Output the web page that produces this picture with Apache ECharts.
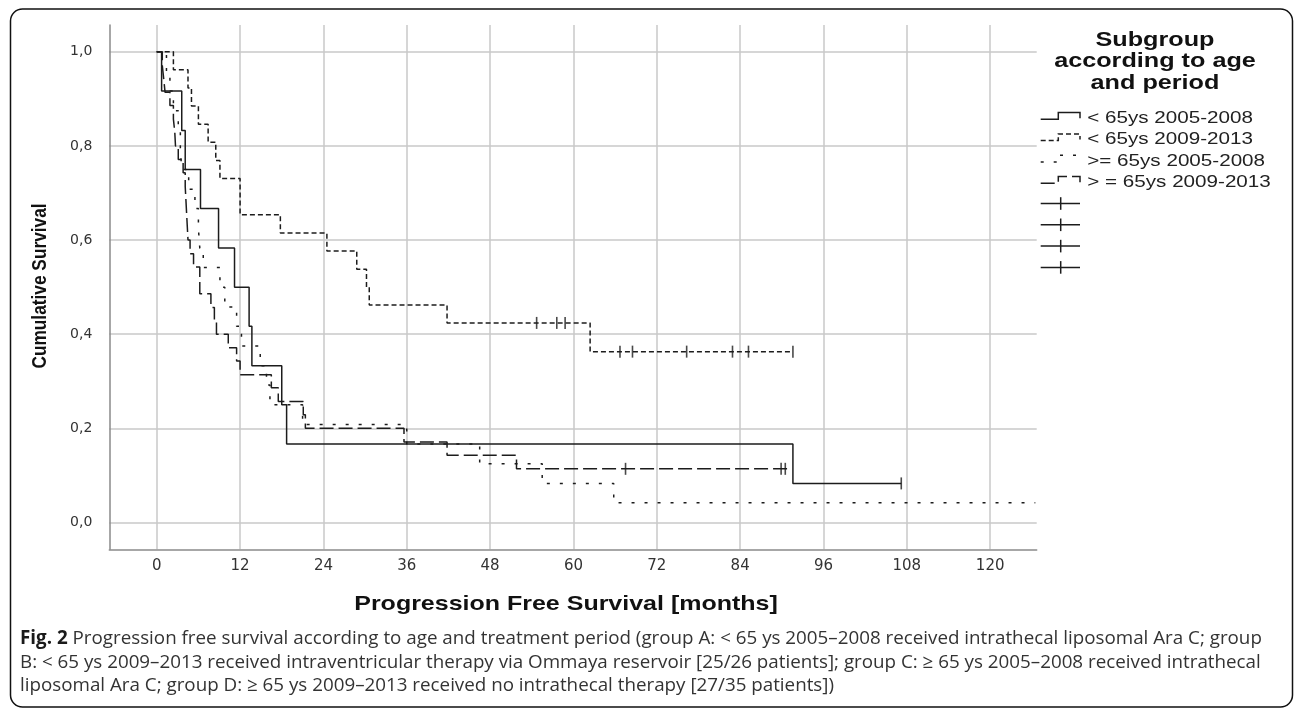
<!DOCTYPE html>
<html>
<head>
<meta charset="utf-8">
<script src="https://cdn.jsdelivr.net/npm/echarts@6/dist/echarts.min.js"></script>
<style>html,body{margin:0;padding:0;background:#fff}#c{width:1295px;height:713px}</style>
</head>
<body>
<div id="c"></div>
<script>
// ---- DATA ----
const groupNames = ['< 65ys 2005-2008', '< 65ys 2009-2013', '>= 65ys 2005-2008', '> = 65ys 2009-2013'];
const xTicks = [0, 12, 24, 36, 48, 60, 72, 84, 96, 108, 120];
const yTicks = [0, 0.2, 0.4, 0.6, 0.8, 1.0];

// group A: < 65ys 2005-2008 (solid)
const timesA = [0, 0.7, 3.6, 4.1, 6.3, 8.9, 11.2, 13.3, 13.7, 18.0, 18.7, 91.6, 107.2];
const survA  = [1, 0.917, 0.833, 0.75, 0.667, 0.583, 0.5, 0.417, 0.333, 0.25, 0.167, 0.083, 0.083];
const censorTimesA = [107.2];
const censorSurvA  = [0.083];

// group B: < 65ys 2009-2013 (short dashes)
const timesB = [0, 2.4, 4.5, 5.0, 6.0, 7.4, 8.5, 9.1, 12.0, 17.8, 24.5, 28.8, 30.2, 30.6, 41.8, 62.4, 91.6];
const survB  = [1, 0.962, 0.923, 0.885, 0.846, 0.808, 0.769, 0.731, 0.654, 0.615, 0.577, 0.538, 0.5, 0.462, 0.424, 0.363, 0.363];
const censorTimesB = [54.7, 57.6, 58.8, 66.7, 68.5, 76.3, 82.9, 85.2, 91.6];
const censorSurvB  = [0.424, 0.424, 0.424, 0.363, 0.363, 0.363, 0.363, 0.363, 0.363];

// group C: >= 65ys 2005-2008 (sparse dashes)
const timesC = [0, 1.4, 1.9, 2.4, 3.1, 3.4, 3.6, 4.6, 5.5, 6.0, 6.2, 6.7, 9.1, 9.8, 11.5, 12.2, 14.9, 15.8, 16.3, 21.0, 36.0, 46.5, 55.5, 65.8, 126.5];
const survC  = [1, 0.958, 0.917, 0.875, 0.833, 0.792, 0.75, 0.708, 0.667, 0.625, 0.583, 0.542, 0.5, 0.458, 0.417, 0.375, 0.333, 0.292, 0.25, 0.208, 0.167, 0.125, 0.083, 0.042, 0.042];
const censorTimesC = [];
const censorSurvC  = [];

// group D: > = 65ys 2009-2013 (long dashes)
const timesD = [0, 0.8, 1.0, 1.2, 1.9, 2.4, 2.6, 2.7, 3.1, 3.8, 4.1, 4.2, 4.3, 4.4, 4.5, 4.8, 5.3, 6.2, 7.8, 8.3, 8.6, 10.3, 11.5, 12.0, 16.5, 17.5, 21.1, 21.4, 35.6, 41.8, 51.8, 91.2];
const survD  = [1, 0.971, 0.943, 0.914, 0.886, 0.857, 0.829, 0.8, 0.771, 0.743, 0.714, 0.686, 0.657, 0.629, 0.6, 0.571, 0.543, 0.486, 0.457, 0.429, 0.4, 0.371, 0.343, 0.314, 0.286, 0.257, 0.229, 0.2, 0.171, 0.143, 0.114, 0.114];
const censorTimesD = [67.5, 89.9, 90.5];
const censorSurvD  = [0.114, 0.114, 0.114];

const legendTitle = ['Subgroup', 'according to age', 'and period'];
const xTitle = 'Progression Free Survival [months]';
const yTitle = 'Cumulative Survival';
const captionLines = [
  '{b|Fig. 2} Progression free survival according to age and treatment period (group A: < 65 ys 2005–2008 received intrathecal liposomal Ara C; group',
  'B: < 65 ys 2009–2013 received intraventricular therapy via Ommaya reservoir [25/26 patients]; group C: ≥ 65 ys 2005–2008 received intrathecal',
  'liposomal Ara C; group D: ≥ 65 ys 2009–2013 received no intrathecal therapy [27/35 patients])'
];

// ---- CHART ----
const ink = '#1c1c1c';
const dashes = ['solid', [5, 3], [3, 10], [14, 5]];
const groups = [
  [timesA, survA, censorTimesA, censorSurvA],
  [timesB, survB, censorTimesB, censorSurvB],
  [timesC, survC, censorTimesC, censorSurvC],
  [timesD, survD, censorTimesD, censorSurvD]
];
const zip = (t, s) => t.map((v, i) => [v, s[i]]);

const series = [];
groups.forEach((g, i) => {
  series.push({
    name: groupNames[i], type: 'line', step: 'end', data: zip(g[0], g[1]),
    showSymbol: false, symbol: 'none', silent: true,
    lineStyle: { color: ink, width: 1.5, type: dashes[i] }
  });
  if (g[2].length) series.push({
    type: 'scatter', data: zip(g[2], g[3]), symbol: 'rect', symbolSize: [1.6, 12],
    itemStyle: { color: ink }, silent: true
  });
});

const chart = echarts.init(document.getElementById('c'), null, { renderer: 'canvas' });

const graphics = [];
// frame
graphics.push({ type: 'rect', shape: { x: 10.5, y: 9, width: 1282, height: 698, r: 12 },
  style: { fill: 'none', stroke: '#111', lineWidth: 1.5 }, silent: true });
// axis titles
graphics.push({ type: 'text', x: 566, y: 604, scaleX: 1.19,
  style: { text: xTitle, fontFamily: 'Liberation Sans', fontWeight: 'bold', fontSize: 21,
    fill: '#111', align: 'center', verticalAlign: 'middle' } });
graphics.push({ type: 'text', x: 40, y: 286, rotation: Math.PI / 2, scaleY: 1.2,
  style: { text: yTitle, fontFamily: 'Liberation Sans', fontWeight: 'bold', fontSize: 17.3,
    fill: '#111', align: 'center', verticalAlign: 'middle' } });
// legend title
legendTitle.forEach((t, i) => graphics.push({ type: 'text', x: 1155, y: 40 + i * 21.5, scaleX: 1.2,
  style: { text: t, fontFamily: 'Liberation Sans', fontWeight: 'bold', fontSize: 21,
    fill: '#111', align: 'center', verticalAlign: 'middle' } }));
// legend items
const lx0 = 1040.7, lxs = 1058.3, lx1 = 1080, rowH = 21.3, row0 = 118.3;
groupNames.forEach((n, i) => {
  const c = row0 + i * rowH;
  graphics.push({ type: 'polyline', silent: true,
    shape: { points: [[lx0, c + 1], [lxs, c + 1], [lxs, c - 5.7], [lx1, c - 5.7], [lx1, c]] },
    style: { stroke: ink, lineWidth: 1.5, fill: null, lineDash: dashes[i] === 'solid' ? null : dashes[i] } });
  graphics.push({ type: 'text', x: 1087.3, y: c, scaleX: 1.2,
    style: { text: n, fontFamily: 'Liberation Sans', fontSize: 17.2, fill: '#222', align: 'left', verticalAlign: 'middle' } });
});
for (let i = 0; i < 4; i++) {
  const c = row0 + (4 + i) * rowH;
  graphics.push({ type: 'line', silent: true, shape: { x1: lx0, y1: c, x2: lx1, y2: c }, style: { stroke: ink, lineWidth: 1.5 } });
  graphics.push({ type: 'line', silent: true, shape: { x1: 1060.7, y1: c - 6.3, x2: 1060.7, y2: c + 6.3 }, style: { stroke: ink, lineWidth: 1.5 } });
}
// caption
captionLines.forEach((t, i) => graphics.push({ type: 'text', x: 20, y: 639 + i * 23.5,
  style: { text: t, fontFamily: 'Open Sans', fontSize: 18.8, fill: '#333', align: 'left', verticalAlign: 'middle',
    rich: { b: { fontFamily: 'Open Sans', fontWeight: 'bold', fontSize: 18.8, fill: '#1a1a1a', color: '#1a1a1a' } } } }));

chart.setOption({
  animation: false,
  backgroundColor: '#fff',
  grid: { left: 109.3, top: 25, width: 927.4, height: 524.3 },
  xAxis: {
    type: 'value', min: -6.83, max: 126.7,
    axisLine: { show: true, onZero: false, lineStyle: { color: '#8a8a8a', width: 1.5 } },
    axisTick: { show: false, customValues: xTicks },
    axisLabel: { customValues: xTicks, margin: 9, color: '#333', fontFamily: 'DejaVu Sans', fontSize: 15 },
    splitLine: { show: true, lineStyle: { color: '#c9c9c9', width: 1.5 } }
  },
  yAxis: {
    type: 'value', min: -0.057, max: 1.057,
    axisLine: { show: true, onZero: false, lineStyle: { color: '#8a8a8a', width: 1.5 } },
    axisTick: { show: false, customValues: yTicks },
    axisLabel: { customValues: yTicks, margin: 17, color: '#333', fontFamily: 'DejaVu Sans', fontSize: 14,
      formatter: v => v.toFixed(1).replace('.', ',') },
    splitLine: { show: true, lineStyle: { color: '#c9c9c9', width: 1.5 } }
  },
  series: series,
  graphic: graphics
});
</script>
</body>
</html>
